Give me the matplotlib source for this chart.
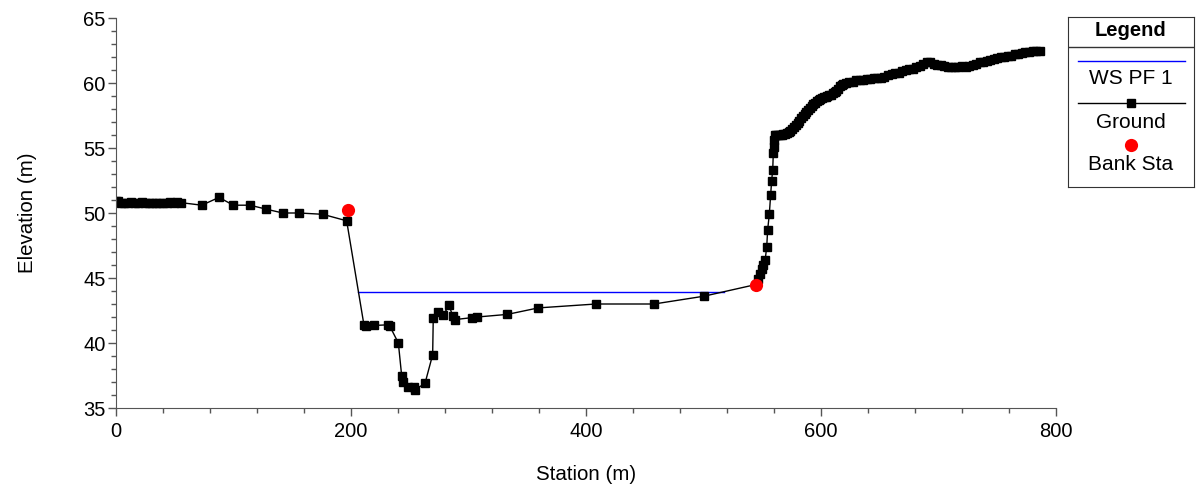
import numpy as np
import matplotlib.pyplot as plt
from matplotlib.ticker import MultipleLocator

plt.rcParams['font.family'] = ['Liberation Sans', 'DejaVu Sans']

# ground profile (station m, elevation m)
station = [0, 2, 4, 7, 10, 13, 16, 19, 22, 25, 28, 31, 34, 37, 40, 43, 46, 49, 52, 55,
           73, 87.7, 99.8, 114, 127.7, 141.9, 156, 175.9, 196.3,
           211, 212.8, 219.9, 231.8, 233, 240.3, 243.1, 244, 248.8, 253.6, 254.5, 263,
           269.5, 270, 273.7, 278.6, 283.4, 286.5, 288.5, 302.7, 307.5,
           333, 359.4, 408.5, 457.9, 500.4, 544.7,
           546.5, 548, 549.5, 551, 552.5, 553.8, 554.6, 556, 557.2, 558, 558.9,
           559.4, 559.8, 560.2, 560.8, 562, 563.5, 565, 566.5, 568, 569.5, 571, 572.5,
           574, 575.5, 577, 578.5, 580, 581.5, 583, 584.5, 586, 587.5, 589, 590.5, 592,
           593.5, 595, 596.5, 598, 599.5, 601, 602.5, 604, 605.5, 607, 608.5, 610, 611.5,
           613, 614.5, 616, 617.5, 619, 621, 624, 627,
           630, 633, 636, 639, 642, 645, 648, 651, 654, 657, 660, 663, 666, 669, 672,
           675, 678, 681, 684, 687, 690, 693, 696, 699, 702, 705, 708, 711, 714, 717,
           720, 723, 726, 729, 732, 735, 738, 741, 744, 747, 750, 753, 756, 759, 762,
           765, 768, 771, 774, 777, 780, 783, 786]
elevation = [50.95, 50.9, 50.8, 50.75, 50.8, 50.85, 50.8, 50.8, 50.85, 50.8, 50.8, 50.75,
             50.8, 50.75, 50.8, 50.8, 50.85, 50.8, 50.85, 50.8,
             50.6, 51.2, 50.6, 50.6, 50.3, 50.0, 50.0, 49.9, 49.4,
             41.4, 41.3, 41.35, 41.4, 41.3, 40.0, 37.5, 37.0, 36.6, 36.6, 36.4, 36.9,
             39.1, 41.9, 42.4, 42.15, 42.9, 42.1, 41.8, 41.95, 42.0,
             42.2, 42.7, 43.0, 43.0, 43.6, 44.5,
             44.9, 45.3, 45.7, 46.0, 46.4, 47.4, 48.7, 49.9, 51.4, 52.5, 53.3,
             54.6, 55.1, 55.6, 56.0, 56.0, 56.0, 56.0, 56.0, 56.05, 56.1, 56.15, 56.2,
             56.3, 56.45, 56.6, 56.75, 56.9, 57.1, 57.3, 57.45, 57.6, 57.75, 57.9, 58.05, 58.2,
             58.35, 58.5, 58.6, 58.7, 58.8, 58.85, 58.9, 58.95, 59.0, 59.05, 59.1, 59.2, 59.3,
             59.4, 59.55, 59.75, 59.85, 59.9, 60.0, 60.1, 60.1,
             60.2, 60.2, 60.25, 60.3, 60.3, 60.35, 60.4, 60.4, 60.5, 60.6, 60.7, 60.75, 60.8, 60.9, 61.0,
             61.05, 61.1, 61.2, 61.3, 61.45, 61.6, 61.6, 61.5, 61.4, 61.35, 61.3, 61.2, 61.2, 61.2, 61.25,
             61.3, 61.25, 61.3, 61.4, 61.5, 61.6, 61.65, 61.7, 61.8, 61.85, 61.9, 62.0, 62.0, 62.05, 62.1,
             62.2, 62.25, 62.3, 62.35, 62.4, 62.45, 62.5, 62.5]

# water surface
ws_station = [206.3, 517.6]
ws_elev = [43.95, 43.95]

# bank stations
bank_station = [197.7, 544.7]
bank_elev = [50.2, 44.5]

fig = plt.figure(figsize=(11.97, 4.88), dpi=100)
ax = fig.add_axes([116/1197, 1-408/488, (1056-116)/1197, (408-18)/488])

ax.plot(ws_station, ws_elev, color='#0000ff', lw=1)
ax.plot(station, elevation, color='black', lw=1, marker='s', ms=6.4,
        markerfacecolor='black', markeredgecolor='black')
ax.plot(bank_station, bank_elev, 'o', color='#ff0000', ms=9.5, markeredgewidth=0)

ax.set_xlim(0, 800)
ax.set_ylim(35, 65)
ax.xaxis.set_major_locator(MultipleLocator(200))
ax.xaxis.set_minor_locator(MultipleLocator(40))
ax.yaxis.set_major_locator(MultipleLocator(5))
ax.yaxis.set_minor_locator(MultipleLocator(1))
ax.spines['top'].set_visible(False)
ax.spines['right'].set_visible(False)
for s in ['left', 'bottom']:
    ax.spines[s].set_color('#555555')
ax.tick_params(which='major', length=6, width=1, color='#555555', labelsize=14.5)
ax.tick_params(which='minor', length=3.6, width=1, color='#555555')
ax.tick_params(axis='x', which='major', pad=4)
ax.tick_params(axis='y', which='major', pad=1.5)

ax.set_xlabel('Station (m)', fontsize=14.8, labelpad=17)
ax.set_ylabel('Elevation (m)', fontsize=14.8, labelpad=33)

# legend box drawn in pixel space
lg = fig.add_axes([1068/1197, 1-187/488, (1194-1068)/1197, (187-17)/488])
lg.set_xlim(1068, 1194)
lg.set_ylim(187, 17)
lg.set_xticks([])
lg.set_yticks([])
for s in lg.spines.values():
    s.set_color('#333333')
lg.text(1131, 31, 'Legend', ha='center', va='center', fontsize=14.5, fontweight='bold')
lg.plot([1068, 1194], [46.5, 46.5], color='#333333', lw=1)
lg.plot([1078, 1185], [60.5, 60.5], color='#0000ff', lw=1)
lg.text(1131, 78, 'WS PF 1', ha='center', va='center', fontsize=15)
lg.plot([1078, 1185], [103, 103], color='black', lw=1)
lg.plot([1131], [103], 's', color='black', ms=6.4)
lg.text(1131, 122, 'Ground', ha='center', va='center', fontsize=15)
lg.plot([1131], [145], 'o', color='#ff0000', ms=9.5, markeredgewidth=0)
lg.text(1131, 164, 'Bank Sta', ha='center', va='center', fontsize=15)

fig.savefig('out.png', dpi=100)
